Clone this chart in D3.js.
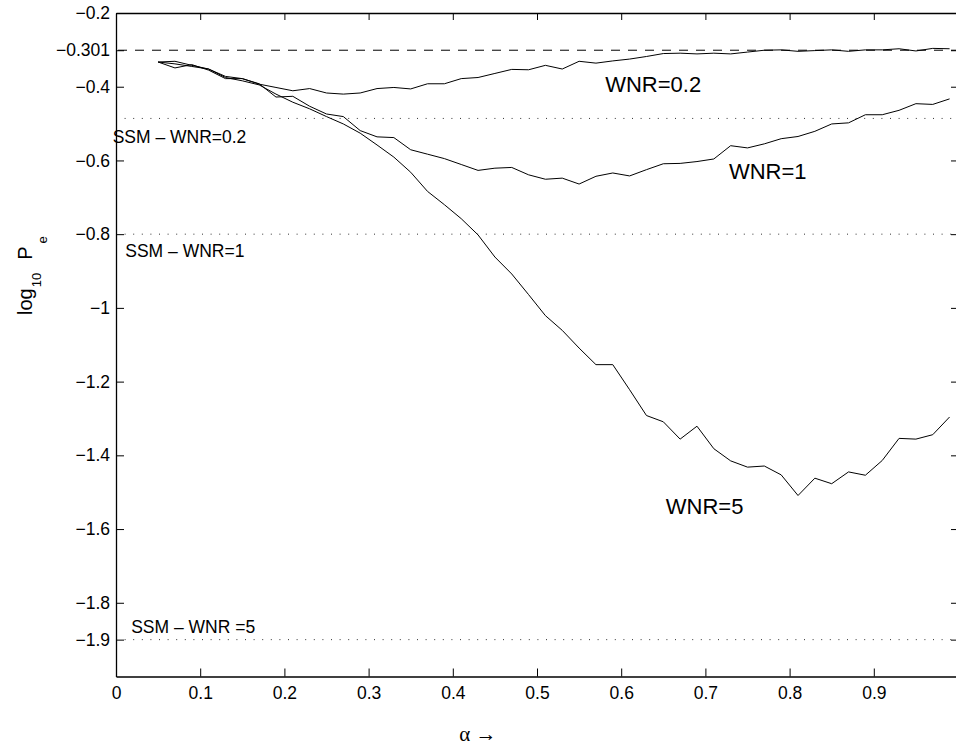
<!DOCTYPE html>
<html>
<head>
<meta charset="utf-8">
<script src="https://cdn.jsdelivr.net/npm/d3@7"></script>
<style>
  body { margin: 0; background: #fff; }
  svg { display: block; font-family: "Liberation Sans", Arial, Helvetica, sans-serif; }
</style>
</head>
<body>
<svg></svg>
<script>
// alpha steps and the three simulated log10 Pe curves
var alpha = [0.05,0.07,0.09,0.11,0.13,0.15,0.17,0.19,0.21,0.23,0.25,0.27,0.29,0.31,0.33,0.35,
	0.37,0.39,0.41,0.43,0.45,0.47,0.49,0.51,0.53,0.55,0.57,0.59,0.61,0.63,0.65,0.67,
	0.69,0.71,0.73,0.75,0.77,0.79,0.81,0.83,0.85,0.87,0.89,0.91,0.93,0.95,0.97,0.99];

var wnr02 = [-0.333,-0.331,-0.342,-0.352,-0.372,-0.378,-0.393,-0.402,-0.411,-0.405,-0.417,-0.420,
	-0.417,-0.405,-0.402,-0.406,-0.392,-0.392,-0.378,-0.375,-0.364,-0.353,-0.354,-0.342,
	-0.352,-0.331,-0.336,-0.330,-0.325,-0.318,-0.310,-0.309,-0.311,-0.309,-0.311,-0.306,
	-0.301,-0.300,-0.304,-0.302,-0.300,-0.304,-0.300,-0.300,-0.297,-0.303,-0.296,-0.297];

var wnr1 = [-0.333,-0.349,-0.340,-0.355,-0.378,-0.378,-0.392,-0.428,-0.426,-0.453,-0.474,-0.481,
	-0.519,-0.536,-0.538,-0.571,-0.583,-0.595,-0.611,-0.627,-0.621,-0.619,-0.639,-0.651,
	-0.648,-0.664,-0.643,-0.634,-0.642,-0.625,-0.609,-0.608,-0.603,-0.596,-0.560,-0.566,
	-0.555,-0.541,-0.535,-0.521,-0.501,-0.498,-0.476,-0.476,-0.464,-0.446,-0.448,-0.433];

var wnr5 = [-0.333,-0.338,-0.345,-0.352,-0.375,-0.384,-0.395,-0.420,-0.442,-0.460,-0.481,-0.501,
	-0.526,-0.558,-0.591,-0.632,-0.684,-0.720,-0.758,-0.802,-0.862,-0.908,-0.964,-1.021,
	-1.061,-1.109,-1.154,-1.154,-1.222,-1.292,-1.309,-1.356,-1.321,-1.382,-1.415,-1.432,
	-1.429,-1.453,-1.509,-1.462,-1.477,-1.445,-1.454,-1.414,-1.354,-1.356,-1.344,-1.296];

var refLevel = -0.301;                 // dashed line
var ssmLevels = [-0.486, -0.8, -1.9];  // dotted lines

var xTicks = [0,0.1,0.2,0.3,0.4,0.5,0.6,0.7,0.8,0.9,1];
var xTickLabels = ["0","0.1","0.2","0.3","0.4","0.5","0.6","0.7","0.8","0.9",""];
var yTicks = [-1.9,-1.8,-1.6,-1.4,-1.2,-1,-0.8,-0.6,-0.4,-0.301,-0.2];
var yTickLabels = ["\u22121.9","\u22121.8","\u22121.6","\u22121.4","\u22121.2","\u22121",
	"\u22120.8","\u22120.6","\u22120.4","\u22120.301","\u22120.2"];

var curveLabels = [
	{text: "WNR=0.2", a: 0.581, v: -0.414},
	{text: "WNR=1",   a: 0.728, v: -0.650},
	{text: "WNR=5",   a: 0.653, v: -1.559}
];
var ssmLabels = [
	{text: "SSM \u2013 WNR=0.2", a: -0.004, v: -0.552},
	{text: "SSM \u2013 WNR=1",   a: 0.011,  v: -0.861},
	{text: "SSM \u2013 WNR =5",  a: 0.018,  v: -1.882}
];

var width = 956;
var height = 748;
var padLeft = 116, padRight = 958, padTop = 13, padBottom = 676.5;

var xScale = d3.scaleLinear()
	.domain([0, 1])
	.range([padLeft, padRight]);

var yScale = d3.scaleLinear()
	.domain([-2, -0.2])
	.range([padBottom, padTop]);

var svg = d3.select('svg')
	.attr('width', width)
	.attr('height', height);

// dotted SSM levels and dashed reference
svg.selectAll('line.ssm')
	.data(ssmLevels)
	.enter()
	.append('line')
		.attr('class', 'ssm')
		.attr('x1', xScale(0))
		.attr('x2', xScale(1))
		.attr('y1', d => yScale(d))
		.attr('y2', d => yScale(d))
		.attr('stroke', '#333')
		.attr('stroke-width', 1)
		.attr('stroke-dasharray', '1,7.6');

svg.append('line')
	.attr('x1', xScale(0) + 2)
	.attr('x2', xScale(1))
	.attr('y1', yScale(refLevel))
	.attr('y2', yScale(refLevel))
	.attr('stroke', '#000')
	.attr('stroke-width', 1)
	.attr('stroke-dasharray', '9,8');

// curves
var line = d3.line()
	.x((d, i) => xScale(alpha[i]))
	.y(d => yScale(d));

[wnr02, wnr1, wnr5].forEach(function(series){
	svg.append('path')
		.datum(series)
		.attr('d', line)
		.attr('fill', 'none')
		.attr('stroke', '#000')
		.attr('stroke-width', 1);
});

// axes: ticks pointing inward on all four sides
var xAxis = d3.axisBottom(xScale)
	.tickValues(xTicks)
	.tickFormat((d, i) => xTickLabels[i])
	.tickSize(-8)
	.tickSizeOuter(0)
	.tickPadding(10);
var yAxis = d3.axisLeft(yScale)
	.tickValues(yTicks)
	.tickFormat((d, i) => yTickLabels[i])
	.tickSize(-8)
	.tickSizeOuter(0)
	.tickPadding(6);

svg.append('g')
	.attr('transform', "translate(0," + padBottom + ")")
	.call(xAxis);
svg.append('g')
	.attr('transform', "translate(" + padLeft + ",0)")
	.call(yAxis);

svg.append('g')
	.attr('transform', "translate(0," + padTop + ")")
	.call(d3.axisTop(xScale).tickValues(xTicks).tickFormat('').tickSize(-7).tickSizeOuter(0));
svg.append('g')
	.attr('transform', "translate(" + padRight + ",0)")
	.call(d3.axisRight(yScale).tickValues(yTicks).tickFormat('').tickSize(-7).tickSizeOuter(0));

svg.selectAll('.domain').attr('stroke', '#000').attr('stroke-width', 1.3);
svg.selectAll('.tick line').attr('stroke', '#000').attr('stroke-width', 1);
svg.selectAll('.tick text')
	.attr('fill', '#000')
	.style('font-size', '17.5px')
	.style('font-family', '"Liberation Sans", Arial, sans-serif');

// curve and SSM labels
svg.selectAll('text.curve')
	.data(curveLabels)
	.enter()
	.append('text')
		.attr('class', 'curve')
		.attr('x', d => xScale(d.a))
		.attr('y', d => yScale(d.v))
		.style('font-size', '22px')
		.text(d => d.text);

svg.selectAll('text.ssmlab')
	.data(ssmLabels)
	.enter()
	.append('text')
		.attr('class', 'ssmlab')
		.attr('x', d => xScale(d.a))
		.attr('y', d => yScale(d.v))
		.style('font-size', '17.5px')
		.text(d => d.text);

// axis titles
svg.append('text')
	.attr('x', 478)
	.attr('y', 741)
	.style('text-anchor', 'middle')
	.style('font-family', '"Liberation Serif", "Times New Roman", serif')
	.style('font-size', '21px')
	.text('\u03b1 \u2192');

var ylab = svg.append('text')
	.attr('transform', 'rotate(-90)')
	.attr('x', -315)
	.attr('y', 31.5)
	.style('font-size', '20px');
ylab.append('tspan').text('log');
ylab.append('tspan').attr('dx', 1).attr('dy', 9).style('font-size', '13px').text('10');
ylab.append('tspan').attr('dx', 13).attr('dy', -9).text('P');
ylab.append('tspan').attr('dx', 3).attr('dy', 15).style('font-size', '13px').text('e');
</script>
</body>
</html>
